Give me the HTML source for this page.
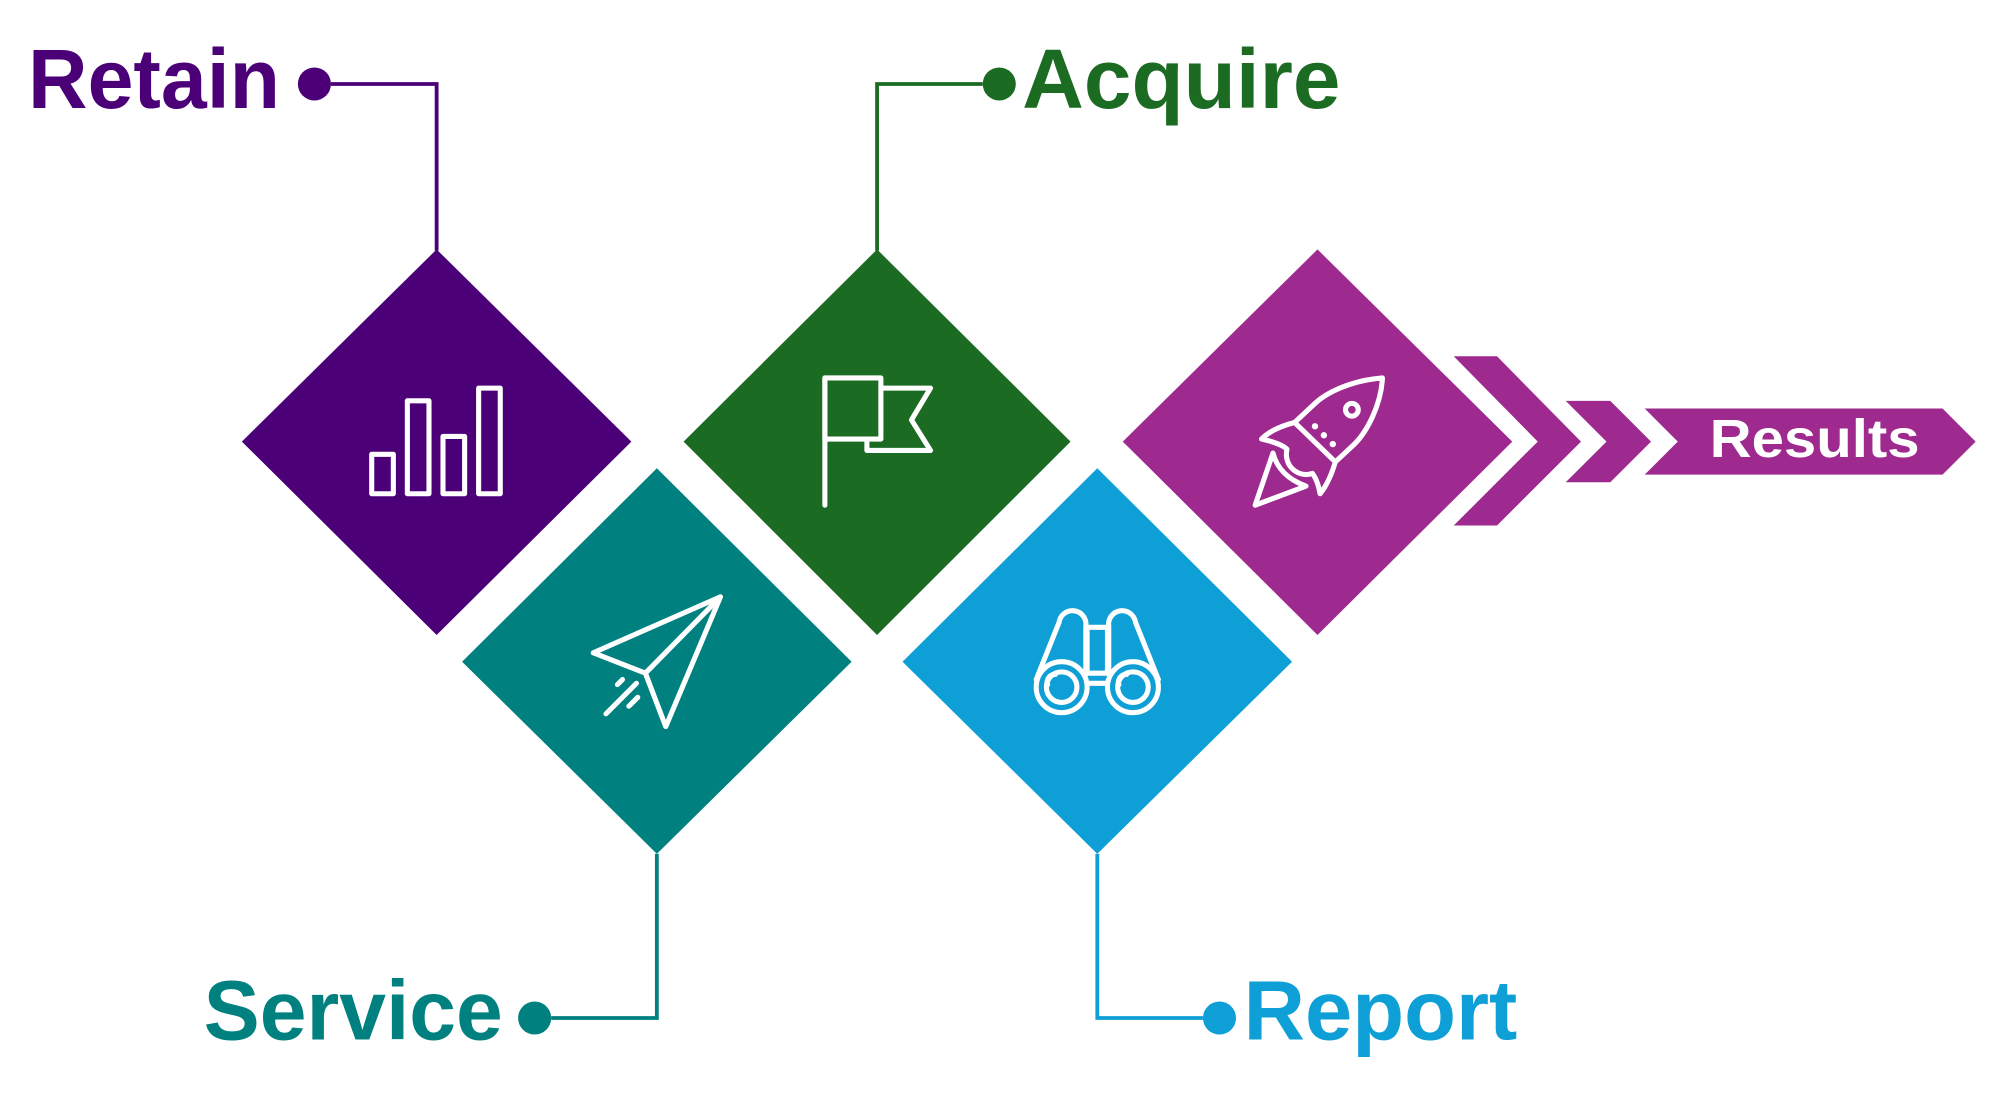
<!DOCTYPE html>
<html><head><meta charset="utf-8"><style>
html,body{margin:0;padding:0;background:#fff;}
svg{display:block;}
text{font-family:"Liberation Sans",sans-serif;font-weight:bold;}
</style></head><body>
<svg width="1996" height="1102" viewBox="0 0 1568 866" preserveAspectRatio="none" xmlns="http://www.w3.org/2000/svg">
<g fill="none" stroke-width="3">
<polyline points="260,66 343,66 343,197" stroke="#4b0078"/>
<polyline points="772,66 689,66 689,197" stroke="#1b6b23"/>
<polyline points="433,800 516,800 516,671" stroke="#00807f"/>
<polyline points="945,800 862,800 862,671" stroke="#0f9fd7"/>
</g>
<circle cx="247" cy="66" r="13" fill="#4b0078"/>
<circle cx="785" cy="66" r="13" fill="#1b6b23"/>
<circle cx="420" cy="800" r="13" fill="#00807f"/>
<circle cx="958" cy="800" r="13" fill="#0f9fd7"/>
<polygon points="343,196 496,347 343,499 190,347" fill="#4b0078"/>
<polygon points="689,196 841,347 689,499 537,347" fill="#1b6b23"/>
<polygon points="1035,196 1188,347 1035,499 882,347" fill="#9e2a8f"/>
<polygon points="516,368 669,520 516,671 363,520" fill="#00807f"/>
<polygon points="862,368 1015,520 862,671 709,520" fill="#0f9fd7"/>
<polygon points="1142,280 1176,280 1242,347 1176,413 1142,413 1208,347" fill="#9e2a8f"/>
<polygon points="1230,315 1265,315 1297,347 1265,379 1230,379 1262,347" fill="#9e2a8f"/>
<polygon points="1292,321 1526,321 1552,347 1526,373 1292,373 1318,347" fill="#9e2a8f"/>
<text x="1343" y="359" font-size="42" fill="#fff" textLength="165" lengthAdjust="spacingAndGlyphs">Results</text>
<text x="22" y="85" font-size="66" fill="#4b0078" textLength="198" lengthAdjust="spacingAndGlyphs">Retain</text>
<text x="803" y="85" font-size="66" fill="#1b6b23" textLength="250" lengthAdjust="spacingAndGlyphs">Acquire</text>
<text x="160" y="817" font-size="66" fill="#00807f" textLength="235" lengthAdjust="spacingAndGlyphs">Service</text>
<text x="977" y="817" font-size="66" fill="#0f9fd7" textLength="215" lengthAdjust="spacingAndGlyphs">Report</text>
<g fill="none" stroke="#fff" stroke-width="4" stroke-linejoin="round" stroke-linecap="round">
<rect x="292" y="357" width="17" height="31"/>
<rect x="320" y="315" width="17" height="73"/>
<rect x="348" y="343" width="17" height="45"/>
<rect x="376" y="305" width="17" height="83"/>
<line x1="648" y1="297" x2="648" y2="397"/>
<rect x="648" y="297" width="44" height="48"/>
<polyline points="692,305 731,305 716,330 731,354 681,354 681,345"/>
<path d="M566,469 L466,513 L507,529 L523,571 Z M507,529 L566,469"/>
<line x1="476" y1="561" x2="500" y2="537"/>
<line x1="485" y1="538" x2="489" y2="534"/>
<line x1="494" y1="555" x2="501" y2="548"/>
<circle cx="834" cy="540" r="20"/><circle cx="834" cy="540" r="12"/>
<circle cx="890" cy="540" r="20"/><circle cx="890" cy="540" r="12"/>
<path d="M814,534 L832,489 A10,10 0 0 1 853,492 L853,530"/>
<path d="M910,534 L892,489 A10,10 0 0 0 871,492 L871,530"/>
<rect x="854" y="493" width="16" height="36"/>
<line x1="855" y1="537" x2="869" y2="537"/>
<path d="M823,538 A6,6 0 0 1 829,530"/>
<path d="M879,538 A6,6 0 0 1 885,530"/>
<path d="M1086,297 C1062,299 1042,308 1032,318 L1017,332 L1049,363 L1064,349 C1074,339 1085,318 1086,297 Z"/>
<path d="M1017,332 C1005,335 996,340 991,345 C1000,347 1008,350 1011,353 C1008,366 1020,376 1031,372 C1034,376 1036,382 1037,388 C1042,382 1046,373 1049,363"/>
<path d="M1000,356 L986,397 L1026,382 C1012,377 1003,368 1000,356 Z"/>
<circle cx="1062" cy="322" r="5"/>
</g>
<g fill="#fff"><circle cx="1033" cy="335" r="2.5"/><circle cx="1040" cy="342" r="2.5"/><circle cx="1047" cy="349" r="2.5"/></g>
</svg>
</body></html>
